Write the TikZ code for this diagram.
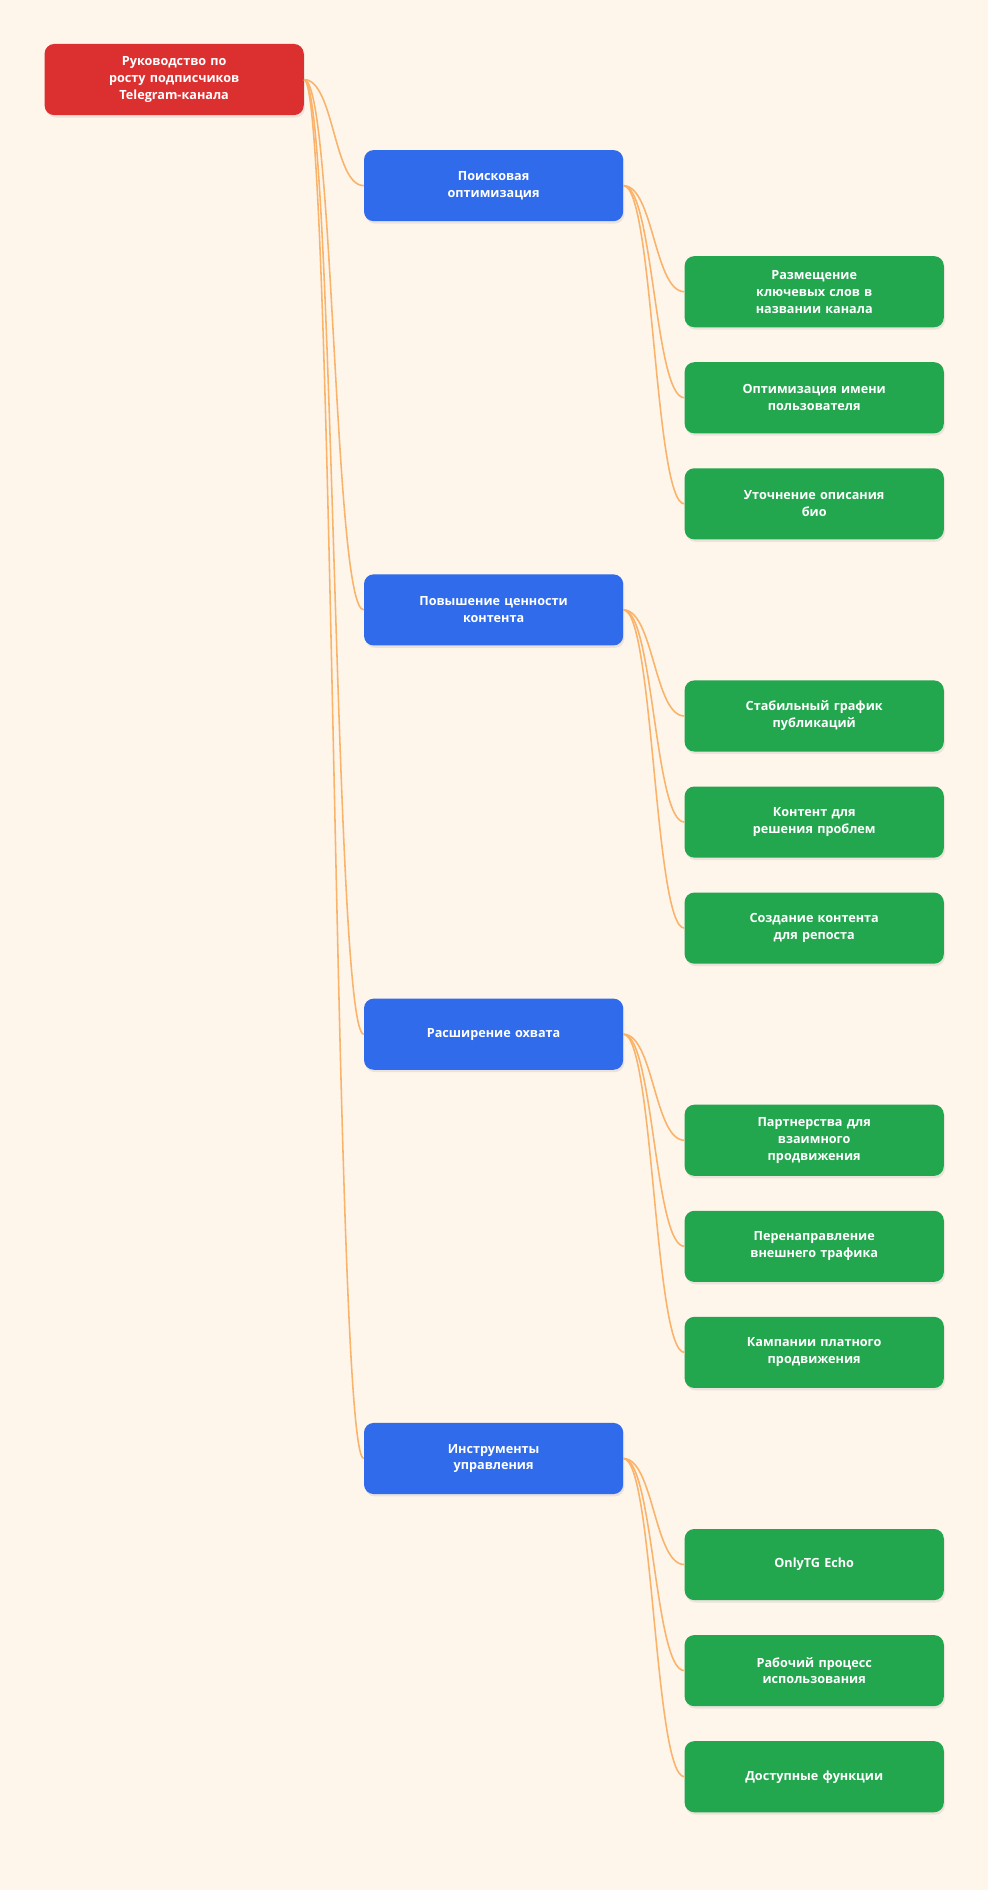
\documentclass[tikz,border=0pt]{standalone}
\usepackage{fontspec}
\setmainfont{Open Sans}
\usetikzlibrary{shadows}
\definecolor{bg}{HTML}{FEF5EB}
\definecolor{cr}{HTML}{DC2F2F}
\definecolor{cb}{HTML}{2F6BEB}
\definecolor{cg}{HTML}{22A64E}
\definecolor{ce}{HTML}{F9B36A}
\begin{document}
\begin{tikzpicture}[x=1pt,y=-1pt,
 box/.style={rounded corners=8pt,minimum width=215pt,minimum height=59pt,align=center,text=white,font=\bfseries\fontsize{10.5}{14}\selectfont,text width=130pt,drop shadow={opacity=0.15,shadow xshift=1pt,shadow yshift=-2pt}},
 r/.style={box,fill=cr},b/.style={box,fill=cb},g/.style={box,fill=cg},
 e/.style={draw=ce,line width=1.3pt}]
\fill[bg] (0,0) rectangle (820,1568);
\useasboundingbox (0,0) rectangle (820,1568);
\node[r] (root) at (144.5,66) {Руководство по\\росту подписчиков\\Telegram-канала};
\node[b] (b1) at (409.5,154) {Поисковая\\оптимизация};
\node[b] (b2) at (409.5,506) {Повышение ценности\\контента};
\node[b] (b3) at (409.5,858) {Расширение охвата};
\node[b] (b4) at (409.5,1210) {Инструменты\\управления};
\node[g] (g1) at (675.5,242) {Размещение\\ключевых слов в\\названии канала};
\node[g] (g2) at (675.5,330) {Оптимизация имени\\пользователя};
\node[g] (g3) at (675.5,418) {Уточнение описания\\био};
\node[g] (g4) at (675.5,594) {Стабильный график\\публикаций};
\node[g] (g5) at (675.5,682) {Контент для\\решения проблем};
\node[g] (g6) at (675.5,770) {Создание контента\\для репоста};
\node[g] (g7) at (675.5,946) {Партнерства для\\взаимного\\продвижения};
\node[g] (g8) at (675.5,1034) {Перенаправление\\внешнего трафика};
\node[g] (g9) at (675.5,1122) {Кампании платного\\продвижения};
\node[g] (g10) at (675.5,1298) {OnlyTG Echo};
\node[g] (g11) at (675.5,1386) {Рабочий процесс\\использования};
\node[g] (g12) at (675.5,1474) {Доступные функции};
\begin{scope}[on background layer/.try]
\end{scope}
\foreach \c in {b1,b2,b3,b4}
 \draw[e] (root.east) .. controls ([xshift=25pt]root.east) and ([xshift=-25pt]\c.west) .. (\c.west);
\foreach \p/\c in {b1/g1,b1/g2,b1/g3,b2/g4,b2/g5,b2/g6,b3/g7,b3/g8,b3/g9,b4/g10,b4/g11,b4/g12}
 \draw[e] (\p.east) .. controls ([xshift=25pt]\p.east) and ([xshift=-25pt]\c.west) .. (\c.west);
\end{tikzpicture}
\end{document}
